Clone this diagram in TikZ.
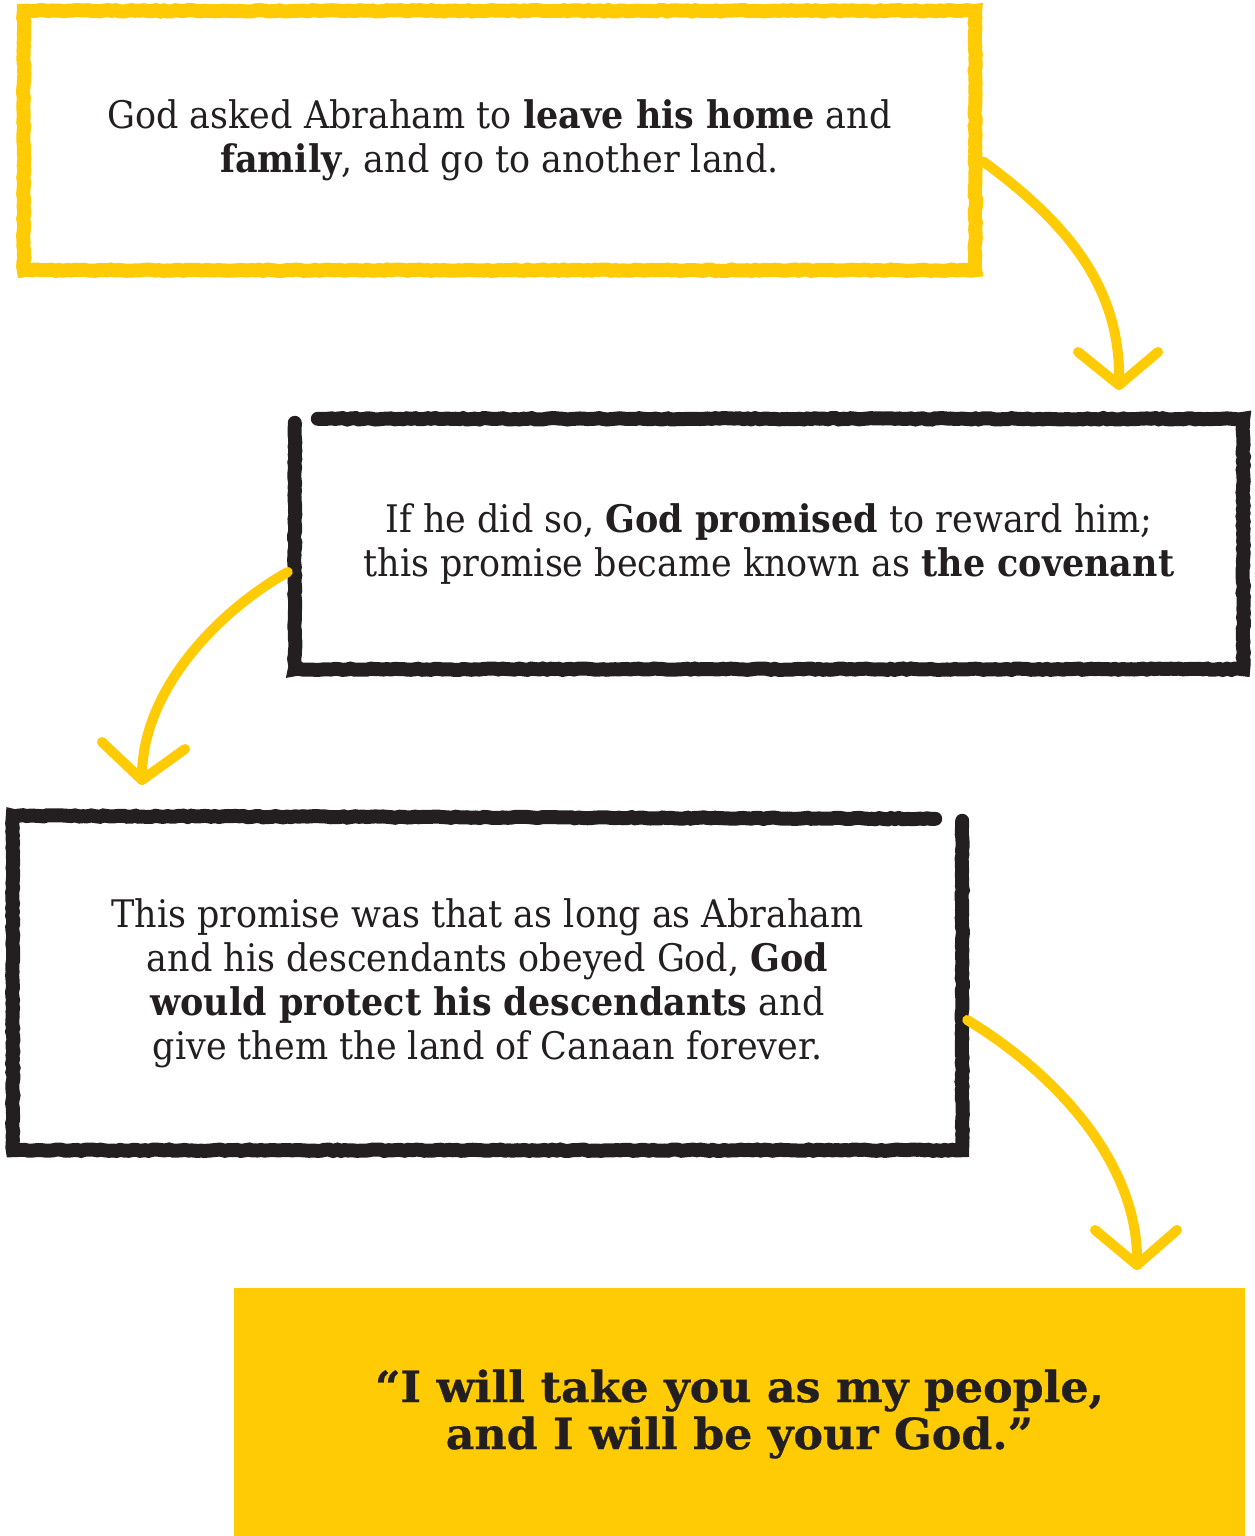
\documentclass[tikz,border=0pt]{standalone}
\usepackage{fontspec}
\setmainfont{DejaVu Serif}[FakeStretch=0.92]
\newfontfamily\quotefont{DejaVu Serif}[FakeStretch=1.03,FakeBold=0.6]
\usetikzlibrary{decorations.pathmorphing,calc}
\definecolor{sun}{HTML}{FFCB05}
\definecolor{ink}{HTML}{231F20}

\begin{document}
\begin{tikzpicture}[x=1pt,y=-1pt,
  panel/.style={draw=none, inner sep=0pt, align=center, text=ink,
    font=\fontsize{38}{44}\selectfont},
  rough/.style={line width=14pt, line cap=round, line join=miter, miter limit=2,
    decorate, decoration={random steps, segment length=4pt, amplitude=0.7pt}},
  swoop/.style={draw=sun, line width=10pt, line cap=round, line join=round}
]
\pgfmathsetseed{7}
\useasboundingbox (0,0) rectangle (1255,1536);

% text panels
\node[panel, minimum width=951pt, minimum height=259pt] (b1) at (499.5,140.5)
  {God asked Abraham to \textbf{leave his home} and\\
   \textbf{family}, and go to another land.};
\node[panel, minimum width=948pt, minimum height=250pt] (b2) at (769,544)
  {If he did so, \textbf{God promised} to reward him;\\
   this promise became known as \textbf{the covenant}};
\node[panel, minimum width=949pt, minimum height=334pt] (b3) at (487.5,983)
  {This promise was that as long as Abraham\\
   and his descendants obeyed God, \textbf{God}\\
   \textbf{would protect his descendants} and\\
   give them the land of Canaan forever.};

% filled quote panel
\fill[sun] (234,1288) rectangle (1245,1540);
\node[panel, minimum width=1011pt, minimum height=248pt,
  font=\quotefont\fontsize{43}{47}\selectfont\bfseries] (b4) at (739.5,1414)
  {“I will take you as my people,\\ and I will be your God.”};

% hand-drawn frames
\draw[rough, draw=sun] (b1.north west) -- (b1.north east) -- (b1.south east)
  -- (b1.south west) -- cycle;
\draw[rough, draw=ink] ($(b2.north west)+(0,4)$) -- (b2.south west)
  -- (b2.south east) -- (b2.north east) -- ($(b2.north west)+(23,0)$);
\draw[rough, draw=ink] ($(b3.north east)+(-27,3)$) -- (b3.north west)
  -- (b3.south west) -- (b3.south east) -- ($(b3.north east)+(0,5)$);

% connectors
\coordinate (s1) at ($(b1.east)+(8,21)$);
\coordinate (t1) at (1119,385);
\draw[swoop] (s1) .. controls (1070,225) and (1122,290) .. (t1);
\draw[swoop] (1078,352) -- (t1) -- (1158,352);

\coordinate (s2) at ($(b2.west)+(-7,28)$);
\coordinate (t2) at (142,780);
\draw[swoop] (s2) .. controls (220,610) and (140,690) .. (t2);
\draw[swoop] (102,742) -- (t2) -- (185,749);

\coordinate (s3) at ($(b3.east)+(5,37)$);
\coordinate (t3) at (1137,1265);
\draw[swoop] (s3) .. controls (1050,1070) and (1140,1160) .. (t3);
\draw[swoop] (1095,1230) -- (t3) -- (1177,1230);
\end{tikzpicture}
\end{document}
